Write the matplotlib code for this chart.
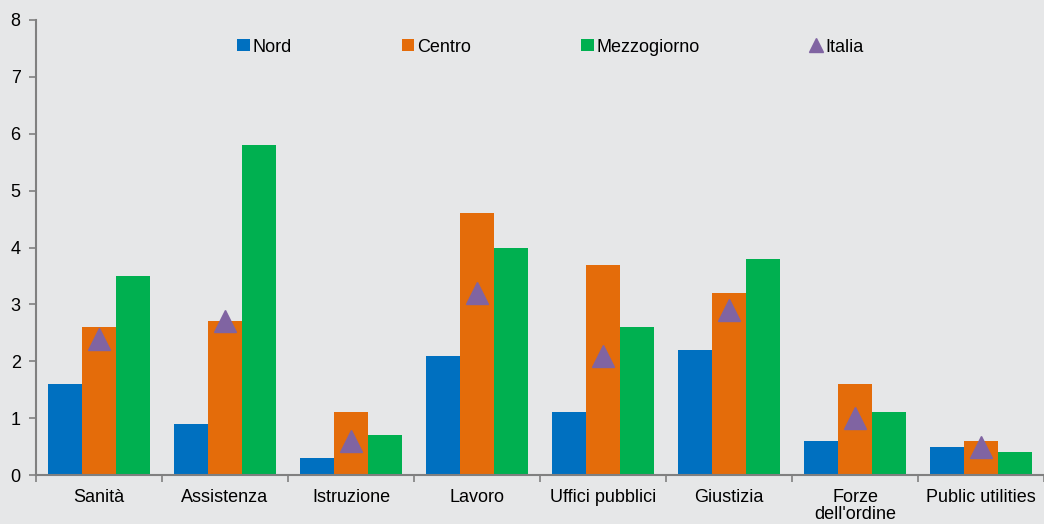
import matplotlib.pyplot as plt
import numpy as np

plt.rcParams['font.family'] = ['Liberation Sans', 'DejaVu Sans']

categories = ['Sanità', 'Assistenza', 'Istruzione', 'Lavoro', 'Uffici pubblici',
              'Giustizia', "Forze\ndell'ordine", 'Public utilities']
nord = [1.6, 0.9, 0.3, 2.1, 1.1, 2.2, 0.6, 0.5]
centro = [2.6, 2.7, 1.1, 4.6, 3.7, 3.2, 1.6, 0.6]
mezzogiorno = [3.5, 5.8, 0.7, 4.0, 2.6, 3.8, 1.1, 0.4]
italia = [2.4, 2.7, 0.6, 3.2, 2.1, 2.9, 1.0, 0.5]

bg = '#e6e7e8'
fig = plt.figure(figsize=(10.44, 5.24), dpi=100, facecolor=bg)
ax = fig.add_axes([36 / 1044, 1 - 475 / 524, 1 - 36 / 1044, 455 / 524])
ax.set_facecolor(bg)

x = np.arange(len(categories))
w = 0.272
b1 = ax.bar(x - w, nord, w, color='#0070c0', label='Nord')
b2 = ax.bar(x, centro, w, color='#e46c0a', label='Centro')
b3 = ax.bar(x + w, mezzogiorno, w, color='#00b050', label='Mezzogiorno')
l1, = ax.plot(x, italia, linestyle='none', marker='^', markersize=16, color='#8064a2', label='Italia')

ax.set_ylim(0, 8)
ax.set_xlim(-0.5, -0.5 + 1008 / 127)
ax.set_yticks(range(9))
ax.set_xticks(x)
ax.set_xticklabels(categories, fontsize=13, va='top', linespacing=1.0)
ax.set_xticks(np.arange(-0.5, 8, 1), minor=True)
ax.tick_params(axis='x', which='major', length=0, pad=10)
ax.tick_params(axis='x', which='minor', length=5, color='#808080', width=1.2, direction='out')
ax.tick_params(axis='y', length=5, color='#808080', width=1.2, labelsize=13, pad=6)

for s in ['top', 'right']:
    ax.spines[s].set_visible(False)
for s in ['left', 'bottom']:
    ax.spines[s].set_color('#808080')
    ax.spines[s].set_linewidth(1.5)

ax.legend(handles=[b1, b2, b3, l1], loc='upper center', bbox_to_anchor=(0.51, 0.995), ncol=4,
          frameon=False, fontsize=13, handlelength=0.7, handleheight=0.6, handletextpad=0.15,
          columnspacing=6.1, markerscale=0.6)

fig.savefig('out.png', dpi=100, facecolor=bg)
